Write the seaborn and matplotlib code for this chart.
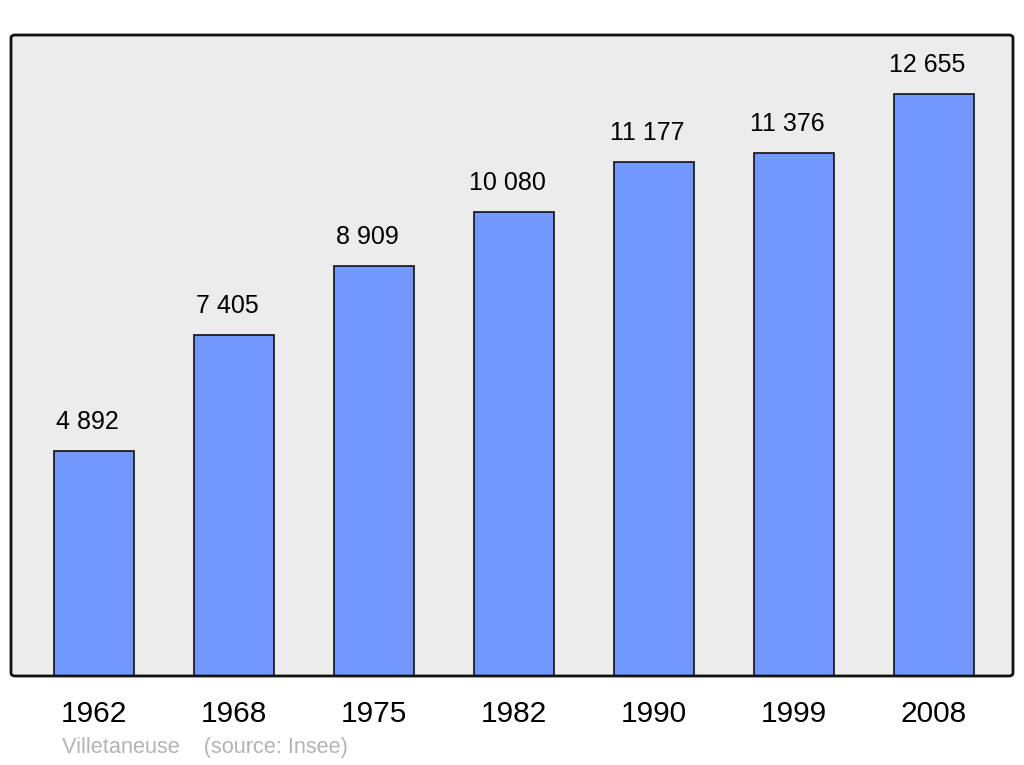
import pandas as pd
import matplotlib.pyplot as plt
import seaborn as sns
from matplotlib.patches import FancyBboxPatch

# data
years = ['1962', '1968', '1975', '1982', '1990', '1999', '2008']
population = [4892, 7405, 8909, 10080, 11177, 11376, 12655]
labels = ['4 892', '7 405', '8 909', '10 080', '11 177', '11 376', '12 655']

df = pd.DataFrame({'year': years, 'population': population})

sns.set_style('white')
plt.rcParams['font.family'] = ['Liberation Sans', 'DejaVu Sans']

W, H = 1024, 765
fig = plt.figure(figsize=(W / 100, H / 100), dpi=100)
ax = fig.add_axes([11 / W, 1 - 676 / H, (1013 - 11) / W, (676 - 35) / H])

# rounded background, drawn behind the axes
bg = FancyBboxPatch((11 / W, 1 - 676 / H), (1013 - 11) / W, (676 - 35) / H,
                    boxstyle='round,pad=0,rounding_size=0.004',
                    transform=fig.transFigure, facecolor='#ececec',
                    edgecolor='none', zorder=-2)
fig.patches.append(bg)
ax.patch.set_visible(False)

sns.barplot(data=df, x='year', y='population', color='#7399ff', saturation=1,
            width=0.571, edgecolor='#111111', linewidth=1.2, ax=ax)

# value labels, slightly left of the bar centre like the original
for i, (v, lab) in enumerate(zip(population, labels)):
    ax.annotate(lab, (i, v), xytext=(-7, 29), textcoords='offset pixels',
                ha='center', va='center', fontsize=18, color='black')

ax.set_xlim(-0.593, 6.564)
ax.set_ylim(0, 13938)
ax.set_yticks([])
for s in ax.spines.values():
    s.set_visible(False)
ax.set_xlabel('')
ax.set_ylabel('')
ax.tick_params(axis='x', length=0, labelsize=21.5, pad=17, colors='black')

# rounded border on top
border = FancyBboxPatch((11 / W, 1 - 676 / H), (1013 - 11) / W, (676 - 35) / H,
                        boxstyle='round,pad=0,rounding_size=0.004',
                        transform=fig.transFigure, facecolor='none',
                        edgecolor='#111111', linewidth=2, zorder=5)
fig.artists.append(border)
border.set_figure(fig)

fig.text(62 / W, 1 - 747 / H, 'Villetaneuse    (source: Insee)', fontsize=15.7,
         color='#b3b3b3', ha='left', va='center')

fig.savefig('out.png', dpi=100)
